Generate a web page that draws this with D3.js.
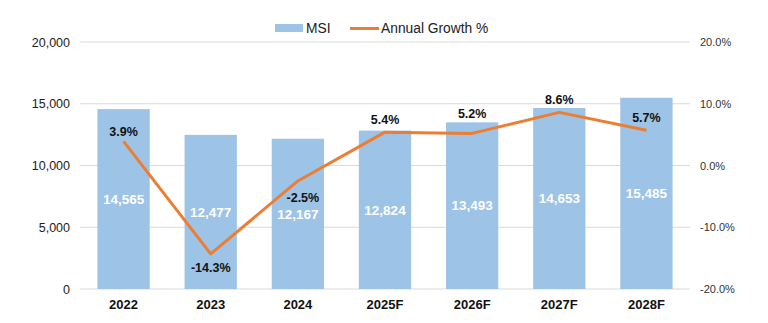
<!DOCTYPE html>
<html><head><meta charset="utf-8">
<script src="https://cdn.jsdelivr.net/npm/d3@7"></script>
<style>body{margin:0;background:#fff;}svg{display:block;font-family:"Liberation Sans",Arial,sans-serif;}</style>
</head><body>
<svg id="c" width="768" height="323"></svg>
<script>
const categories = ["2022","2023","2024","2025F","2026F","2027F","2028F"];
const msiValues = [14565,12477,12167,12824,13493,14653,15485];
const growthValues = [3.9,-14.3,-2.5,5.4,5.2,8.6,5.7];
const leftTicks = [0,5000,10000,15000,20000];
const rightTicks = [-20,-10,0,10,20];

const svg = d3.select("#c");
const L = 80, R = 690, T = 42, B = 289;
const x = d3.scaleBand().domain(categories).range([L,R]).paddingInner(0.4).paddingOuter(0.2);
const yL = d3.scaleLinear().domain([0,20000]).range([B,T]);
const yR = d3.scaleLinear().domain([-20,20]).range([B,T]);

// gridlines
svg.append("g").selectAll("line").data(leftTicks).join("line")
  .attr("x1",L).attr("x2",R).attr("y1",d=>yL(d)).attr("y2",d=>yL(d))
  .attr("stroke","#d9d9d9").attr("stroke-width",1);

// left axis
const axL = svg.append("g").attr("transform",`translate(${L},0)`)
  .call(d3.axisLeft(yL).tickValues(leftTicks).tickSize(0).tickPadding(10).tickFormat(d3.format(",")));
axL.select(".domain").remove();
axL.selectAll("text").attr("font-size",12.5).attr("fill","#222").style("font-family","Liberation Sans, Arial, sans-serif");

// right axis
const axR = svg.append("g").attr("transform",`translate(${R},0)`)
  .call(d3.axisRight(yR).tickValues(rightTicks).tickSize(0).tickPadding(10).tickFormat(d=>d.toFixed(1)+"%"));
axR.select(".domain").remove();
axR.selectAll("text").attr("font-size",11).attr("fill","#333").style("font-family","Liberation Sans, Arial, sans-serif");

// x axis
const axX = svg.append("g").attr("transform",`translate(0,${B})`)
  .call(d3.axisBottom(x).tickSize(0).tickPadding(11));
axX.select(".domain").remove();
axX.selectAll("text").attr("font-size",13).attr("font-weight","bold").attr("fill","#111").style("font-family","Liberation Sans, Arial, sans-serif");

// bars
svg.append("g").selectAll("rect").data(categories).join("rect")
  .attr("x",d=>x(d)).attr("width",x.bandwidth())
  .attr("y",(d,i)=>yL(msiValues[i])).attr("height",(d,i)=>B-yL(msiValues[i]))
  .attr("fill","#9dc3e6");

// bar labels
svg.append("g").selectAll("text").data(categories).join("text")
  .attr("x",d=>x(d)+x.bandwidth()/2)
  .attr("y",(d,i)=>(yL(msiValues[i])+B)/2)
  .attr("dy","0.35em").attr("text-anchor","middle")
  .attr("font-size",13.5).attr("font-weight","bold").attr("fill","#fff")
  .text((d,i)=>d3.format(",")(msiValues[i]));

// line
const line = d3.line().x((d,i)=>x(categories[i])+x.bandwidth()/2).y(d=>yR(d));
svg.append("path").datum(growthValues).attr("d",line)
  .attr("fill","none").attr("stroke","#ed7d31").attr("stroke-width",3).attr("stroke-linejoin","round");

// growth labels
const offsets = [-10,14,17,-13,-20,-13,-13];
const dxs = [0,0,5,0,0,0,0];
svg.append("g").selectAll("text").data(growthValues).join("text")
  .attr("x",(d,i)=>x(categories[i])+x.bandwidth()/2+dxs[i])
  .attr("y",(d,i)=>yR(d)+offsets[i])
  .attr("dy","0.35em").attr("text-anchor","middle")
  .attr("font-size",12.5).attr("font-weight","bold").attr("fill","#111")
  .text(d=>d.toFixed(1)+"%");

// legend
const lg = svg.append("g");
lg.append("rect").attr("x",275).attr("y",24).attr("width",28).attr("height",8).attr("fill","#9dc3e6");
lg.append("text").attr("x",306).attr("y",28.5).attr("dy","0.35em").attr("font-size",13.8).attr("fill","#222").text("MSI");
lg.append("line").attr("x1",350).attr("x2",379).attr("y1",28.5).attr("y2",28.5).attr("stroke","#ed7d31").attr("stroke-width",3);
lg.append("text").attr("x",381).attr("y",28.5).attr("dy","0.35em").attr("font-size",13.8).attr("fill","#222").text("Annual Growth %");
</script>
</body></html>
